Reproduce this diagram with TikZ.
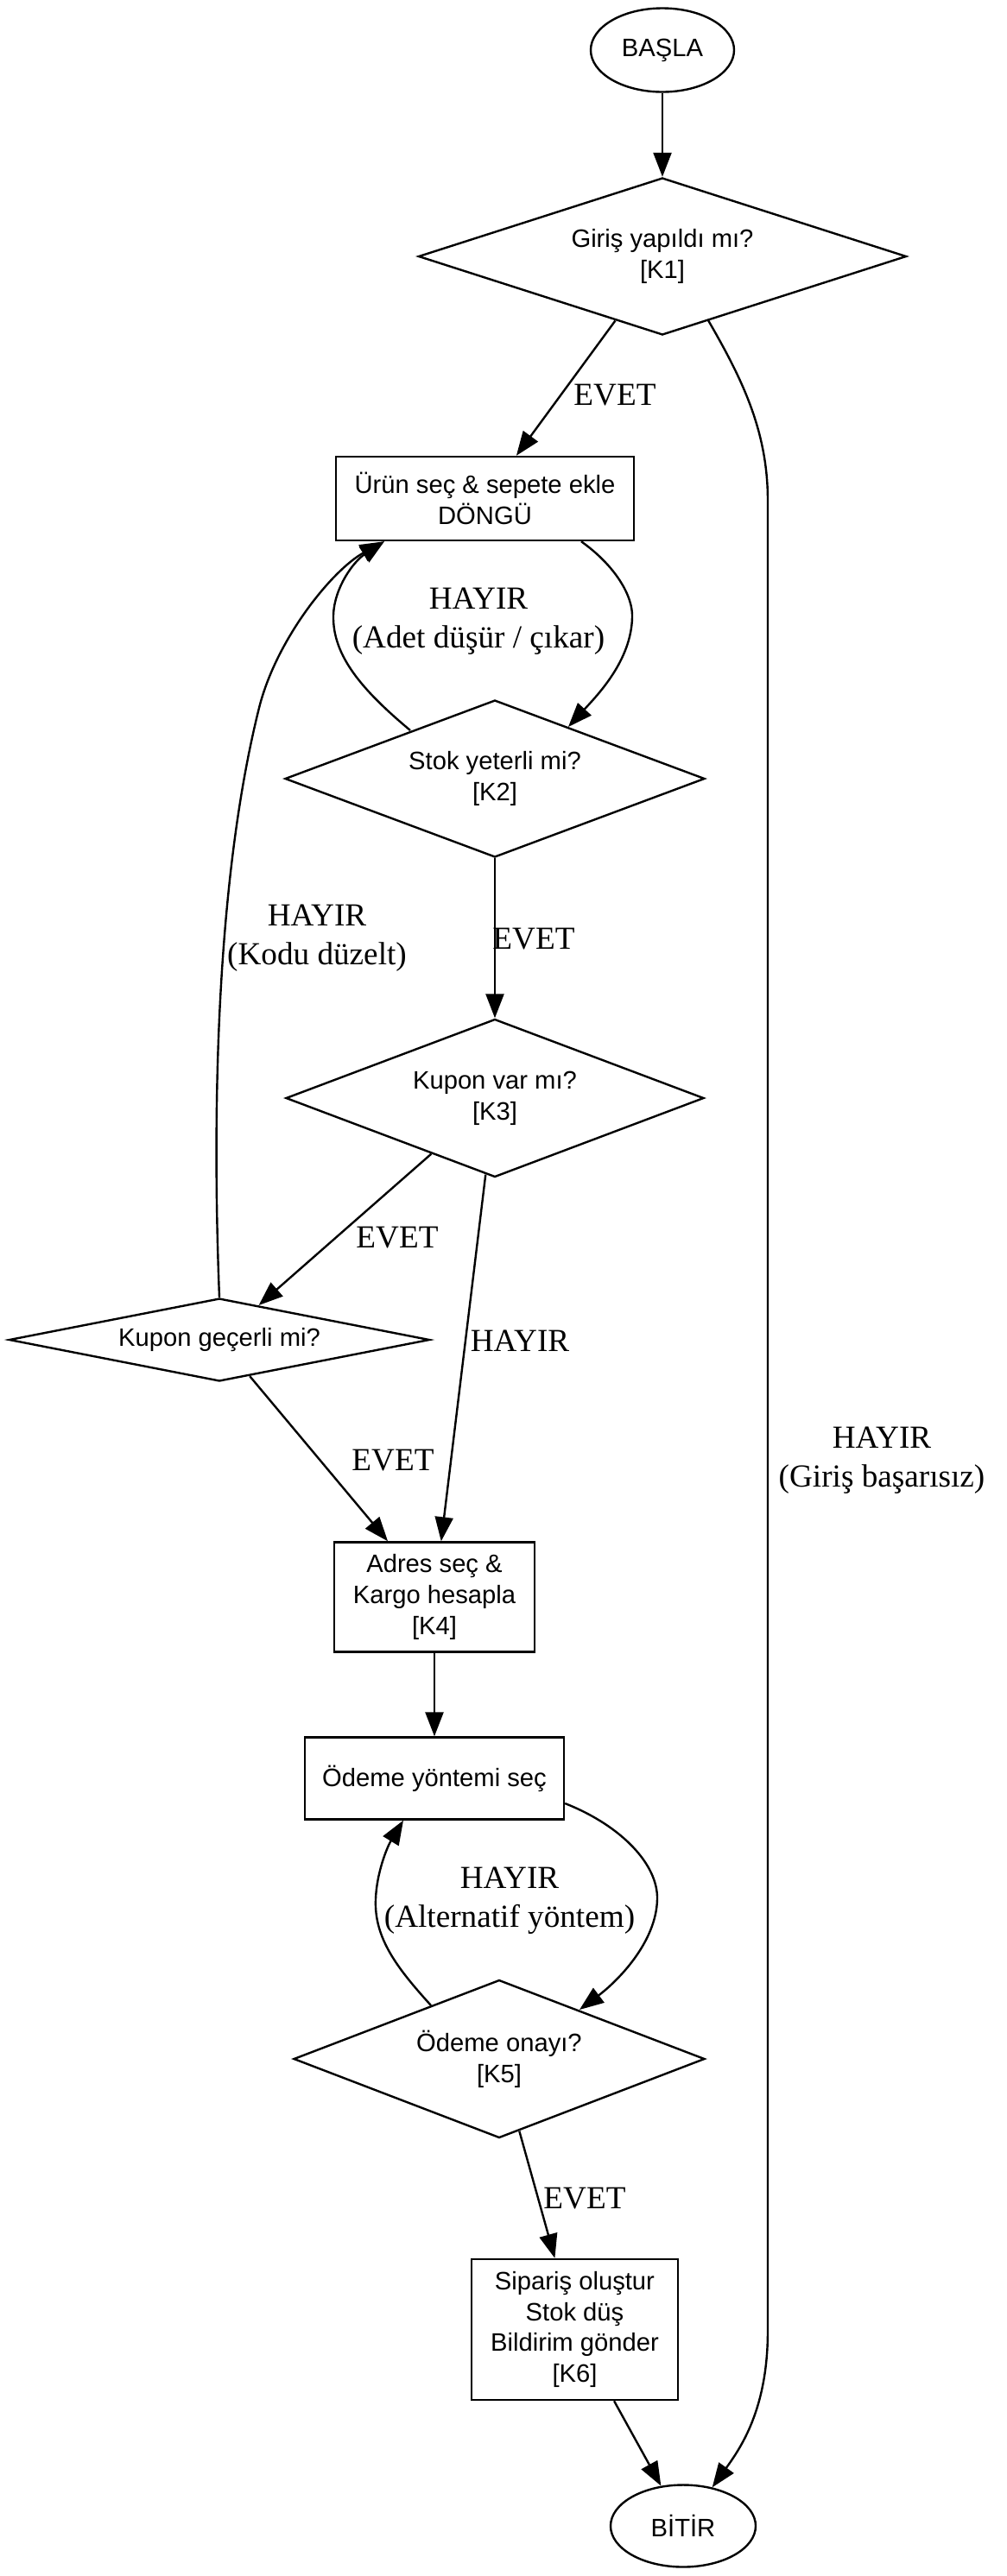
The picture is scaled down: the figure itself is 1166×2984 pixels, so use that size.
\documentclass[tikz,border=0pt]{standalone}
\usepackage{fontspec}
\setmainfont{Liberation Serif}
\newfontfamily\NodeFam{Liberation Sans}
\newfontfamily\LblFam{Liberation Serif}
\usetikzlibrary{shapes.geometric,arrows.meta,calc}
\newcommand\NodeFont{\NodeFam\fontsize{14.6pt}{17.9pt}\selectfont}
\newcommand\LblFont{\LblFam\fontsize{18.6pt}{22.4pt}\selectfont}
\begin{document}
\begin{tikzpicture}[x=0.5pt,y=-0.5pt,
  base/.style={draw,line width=1.2pt,font=\NodeFont,align=center,inner sep=0pt},
  dia/.style={base,diamond},
  box/.style={base,rectangle},
  oval/.style={base,ellipse},
  arr/.style={line width=1.2pt,-{Triangle[length=14pt,width=10.5pt]}},
  lbl/.style={font=\LblFont,align=center,inner sep=0pt}]
\fill[white] (0,0) rectangle (1166,2984);
\useasboundingbox (0,0) rectangle (1166,2984);

% nodes
\node[oval,minimum width=83pt,minimum height=48.5pt] (start) at (767,58) {BAŞLA};
\node[dia,aspect=3.1,minimum width=282.5pt,minimum height=91pt] (k1) at (767,297) {Giriş yapıldı mı?\\{[K1]}};
\node[box,minimum width=172.5pt,minimum height=48.5pt] (urun) at (561.5,577.5) {Ürün seç \& sepete ekle\\DÖNGÜ};
\node[dia,aspect=2.67,minimum width=243pt,minimum height=91pt] (k2) at (573,902) {Stok yeterli mi?\\{[K2]}};
\node[dia,aspect=2.65,minimum width=242pt,minimum height=91.5pt] (k3) at (573,1272) {Kupon var mı?\\{[K3]}};
\node[dia,aspect=5.07,minimum width=243.5pt,minimum height=48pt] (kupon) at (254,1552) {Kupon geçerli mi?};
\node[box,minimum width=116pt,minimum height=63.5pt] (adres) at (503,1850) {Adres seç \&\\Kargo hesapla\\{[K4]}};
\node[box,minimum width=150pt,minimum height=47.5pt] (odeme) at (503,2060) {Ödeme yöntemi seç};
\node[dia,aspect=2.6,minimum width=238pt,minimum height=91.5pt] (k5) at (578,2385) {Ödeme onayı?\\{[K5]}};
\node[box,minimum width=119.5pt,minimum height=81.5pt] (siparis) at (665.5,2698.5) {Sipariş oluştur\\Stok düş\\Bildirim gönder\\{[K6]}};
\node[oval,minimum width=84pt,minimum height=47.5pt] (bitir) at (791,2926) {BİTİR};

% connectors
\draw[arr] (start) -- (k1);
\draw[arr] (k1) -- (urun);
\draw[arr] ($(k1)+(53,74)$) .. controls (860,440) and (889,500) .. (889,580)
  -- (889,2700) .. controls (889,2790) and (858,2835) .. (bitir.53);
\draw[arr] ($(urun.south)+(111.5,0)$) .. controls (712,655) and (733,690) .. (732,715)
  .. controls (731,765) and (692,805) .. ($(k2)+(85,-60)$);
\draw[arr] ($(k2)+(-98,-56)$) .. controls (420,800) and (385,760) .. (386,713)
  .. controls (387,680) and (410,650) .. ($(urun.south)+(-116.5,0)$);
\draw[arr] (k2) -- (k3);
\draw[arr] (k3) -- (kupon);
\draw[arr] (k3) -- (adres);
\draw[arr] (kupon.north) .. controls (244,1250) and (255,1000) .. (300,820)
  .. controls (320,740) and (385,660) .. ($(urun.south)+(-116.5,0)$);
\draw[arr] (kupon) -- (adres);
\draw[arr] (adres) -- (odeme);
\draw[arr] ($(odeme.east)+(0,29)$) .. controls (720,2115) and (762,2160) .. (761,2200)
  .. controls (760,2250) and (715,2295) .. ($(k5)+(93,-57)$);
\draw[arr] ($(k5)+(-79,-62)$) .. controls (460,2280) and (433,2245) .. (435,2200)
  .. controls (436,2170) and (448,2140) .. ($(odeme.south)+(-36,0)$);
\draw[arr] (k5) -- (siparis);
\draw[arr] (siparis) -- (bitir);

% edge labels
\node[lbl] (l1) at (712,458) {EVET};
\node[lbl] (l2) at (1021,1692) {HAYIR\\(Giriş başarısız)};
\node[lbl] (l3) at (554,720) {HAYIR\\(Adet düşür / çıkar)};
\node[lbl] (l4) at (618,1088) {EVET};
\node[lbl] (l5) at (460,1434) {EVET};
\node[lbl] (l6) at (602,1553) {HAYIR};
\node[lbl] (l7) at (367,1087) {HAYIR\\(Kodu düzelt)};
\node[lbl] (l8) at (455,1692) {EVET};
\node[lbl] (l9) at (590,2202) {HAYIR\\(Alternatif yöntem)};
\node[lbl] (l10) at (677,2547) {EVET};
\end{tikzpicture}
\end{document}
